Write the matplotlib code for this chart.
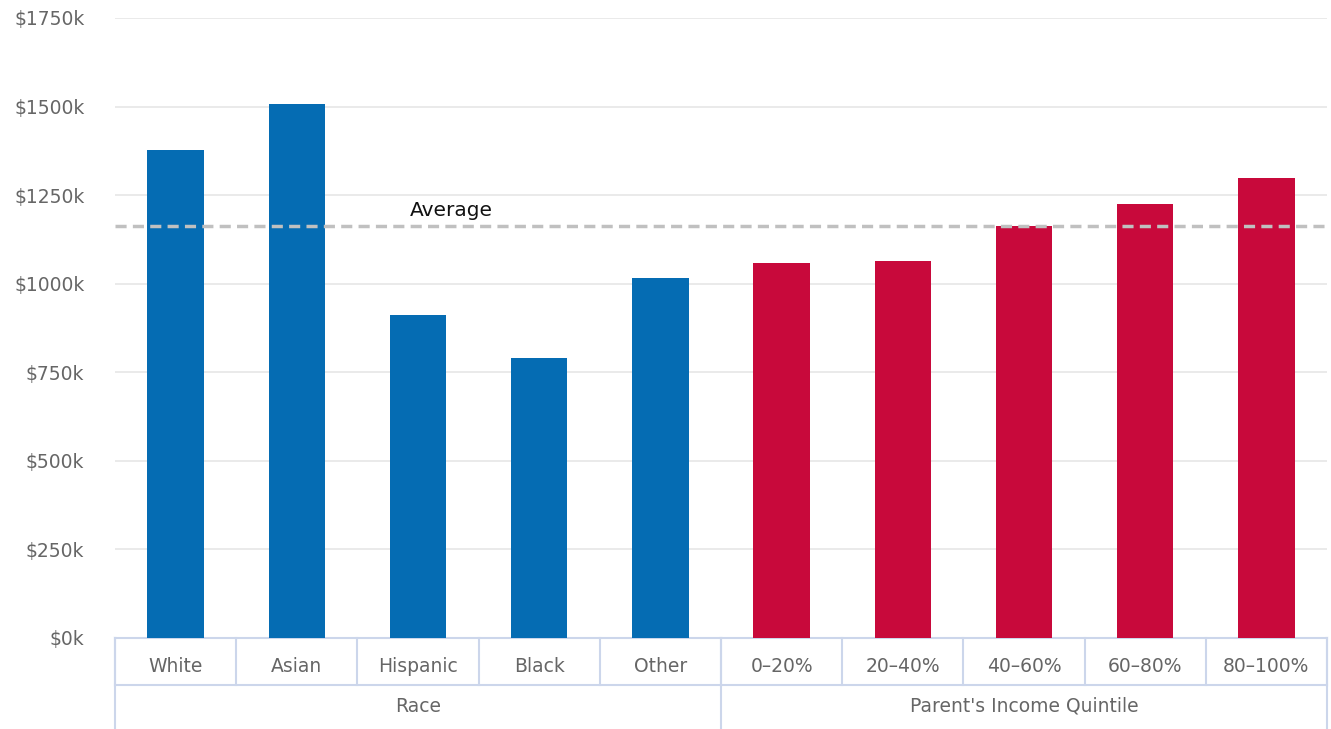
import numpy as np
import matplotlib.pyplot as plt

# data
race_labels = ["White", "Asian", "Hispanic", "Black", "Other"]
race_values = [1378, 1506, 912, 791, 1017]
income_labels = ["0\u201320%", "20\u201340%", "40\u201360%", "60\u201380%", "80\u2013100%"]
income_values = [1059, 1065, 1164, 1226, 1297]
group_names = ["Race", "Parent's Income Quintile"]
average_value = 1164
y_ticks = [0, 250, 500, 750, 1000, 1250, 1500, 1750]

BLUE = "#056cb3"
RED = "#c8093b"
AXIS_COLOR = "#ccd6eb"
TEXT_COLOR = "#666666"

plt.rcParams['font.family'] = ['DejaVu Sans']

fig = plt.figure(figsize=(13.31, 7.29), dpi=100)
ax = fig.add_axes([115 / 1331, 91 / 729, 1212 / 1331, 620 / 729])

labels = race_labels + income_labels
values = race_values + income_values
colors = [BLUE] * len(race_values) + [RED] * len(income_values)
x = np.arange(len(labels))

ax.bar(x, values, width=0.465, color=colors, zorder=3)

# average line
ax.axhline(average_value, color="#c0c0c0", linewidth=2.5, linestyle=(0, (3.2, 1.8)), zorder=4)
ax.text(1.93, average_value + 16, "Average", fontsize=14.5, color="#111111", ha="left", va="bottom")

ax.set_xlim(-0.5, len(labels) - 0.5)
ax.set_ylim(0, 1750)
ax.set_yticks(y_ticks)
ax.set_yticklabels(["$%dk" % v for v in y_ticks])
ax.tick_params(axis="y", length=0, labelsize=13.5, labelcolor=TEXT_COLOR, pad=22)
ax.set_xticks([])
ax.grid(axis="y", color="#e6e6e6", linewidth=1.2, zorder=0)
for s in ax.spines.values():
    s.set_visible(False)

# category boxes below the axis
trans = ax.get_xaxis_transform()
row1 = -47 / 620
row2 = -0.2
ax.plot([-0.5, len(labels) - 0.5], [0, 0], color=AXIS_COLOR, lw=1.5, transform=trans, clip_on=False)
ax.plot([-0.5, len(labels) - 0.5], [row1, row1], color=AXIS_COLOR, lw=1.5, transform=trans, clip_on=False)
for b in np.arange(-0.5, len(labels), 1.0):
    ax.plot([b, b], [0, row1], color=AXIS_COLOR, lw=1.5, transform=trans, clip_on=False)
for b in [-0.5, len(race_labels) - 0.5, len(labels) - 0.5]:
    ax.plot([b, b], [0, row2], color=AXIS_COLOR, lw=1.5, transform=trans, clip_on=False)

for xi, lab in zip(x, labels):
    ax.text(xi, -29 / 620, lab, transform=trans, ha="center", va="center",
            fontsize=13.5, color=TEXT_COLOR)
ax.text((len(race_labels) - 1) / 2, -68 / 620, group_names[0], transform=trans,
        ha="center", va="center", fontsize=13.5, color=TEXT_COLOR)
ax.text(len(race_labels) + (len(income_labels) - 1) / 2, -68 / 620, group_names[1],
        transform=trans, ha="center", va="center", fontsize=13.5, color=TEXT_COLOR)

fig.savefig("out.png", dpi=100)
